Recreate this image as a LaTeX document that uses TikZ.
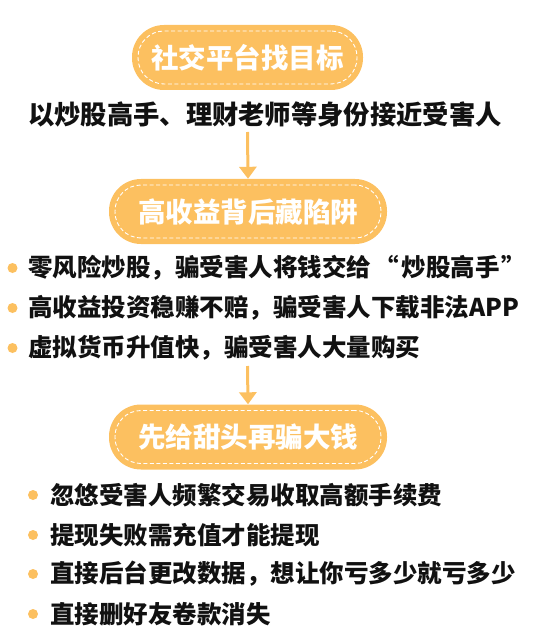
\documentclass[tikz,border=0pt]{standalone}
\usepackage{fontspec}
\newfontfamily\cjk{Noto Sans CJK SC}
\usetikzlibrary{arrows.meta}
\definecolor{orng}{HTML}{FCC060}
\definecolor{ink}{HTML}{111111}
\tikzset{
  stagebox/.style={fill=orng, rounded corners=32pt, minimum height=65pt, inner sep=0pt},
  stagetext/.style={text=white, inner sep=0pt, font=\cjk\bfseries\fontsize{27.5pt}{30pt}\selectfont},
  innerdash/.style={draw=white, dashed, dash pattern=on 4pt off 2.5pt, line width=0.9pt,
    rounded corners=26pt, minimum height=53pt, inner sep=0pt},
  plain/.style={anchor=west, inner sep=0pt, text=ink, font=\cjk\bfseries\fontsize{24.5pt}{28pt}\selectfont},
  lead/.style={anchor=west, inner sep=0pt, text=ink, font=\cjk\bfseries\fontsize{26.3pt}{30pt}\selectfont},
  dot/.style={circle, fill=orng, minimum size=10pt, inner sep=0pt},
  flow/.style={draw=orng, line width=3pt, -{Triangle[width=17pt,length=12pt]}}
}
\begin{document}
\begin{tikzpicture}[x=1pt,y=-1pt]
\useasboundingbox (0,0) rectangle (536,628);
% stage 1
\node[stagebox, minimum width=231pt] (s1) at (247.5,57.5) {};
\node[innerdash, minimum width=219pt] (s1d) at (s1.center) {};
\node[stagetext] (s1t) at (s1.center) {社交平台找目标};
\node[lead] (l0) at (28,114) {以炒股高手、理财老师等身份接近受害人};
\coordinate (a1) at (247.5,132);
% stage 2
\node[stagebox, minimum width=278pt] (s2) at (248,211.5) {};
\node[innerdash, minimum width=266pt] (s2d) at (s2.center) {};
\node[stagetext] (s2t) at (s2.center) {高收益背后藏陷阱};
\draw[flow] (a1) -- (s2.north);
\node[dot] (d1) at (12.5,268) {};
\node[plain] (t1) at (28,268) {零风险炒股，骗受害人将钱交给\hspace{3pt}“\hspace{3pt}炒股高手\hspace{2pt}”};
\node[dot] (d2) at (12.5,308) {};
\node[plain] (t2) at (28,308) {高收益投资稳赚不赔，骗受害人下载非法APP};
\node[dot] (d3) at (12.5,348) {};
\node[plain] (t3) at (28,348) {虚拟货币升值快，骗受害人大量购买};
\coordinate (a2) at (247.5,366);
% stage 3
\node[stagebox, minimum width=278pt] (s3) at (248,437) {};
\node[innerdash, minimum width=266pt] (s3d) at (s3.center) {};
\node[stagetext] (s3t) at (s3.center) {先给甜头再骗大钱};
\draw[flow] (a2) -- (s3.north);
\node[dot] (e1) at (33,495) {};
\node[plain] (u1) at (50,495) {忽悠受害人频繁交易收取高额手续费};
\node[dot] (e2) at (33,535) {};
\node[plain] (u2) at (50,535) {提现失败需充值才能提现};
\node[dot] (e3) at (33,574) {};
\node[plain] (u3) at (50,574) {直接后台更改数据，想让你亏多少就亏多少};
\node[dot] (e4) at (33,614) {};
\node[plain] (u4) at (50,614) {直接删好友卷款消失};
\end{tikzpicture}
\end{document}
